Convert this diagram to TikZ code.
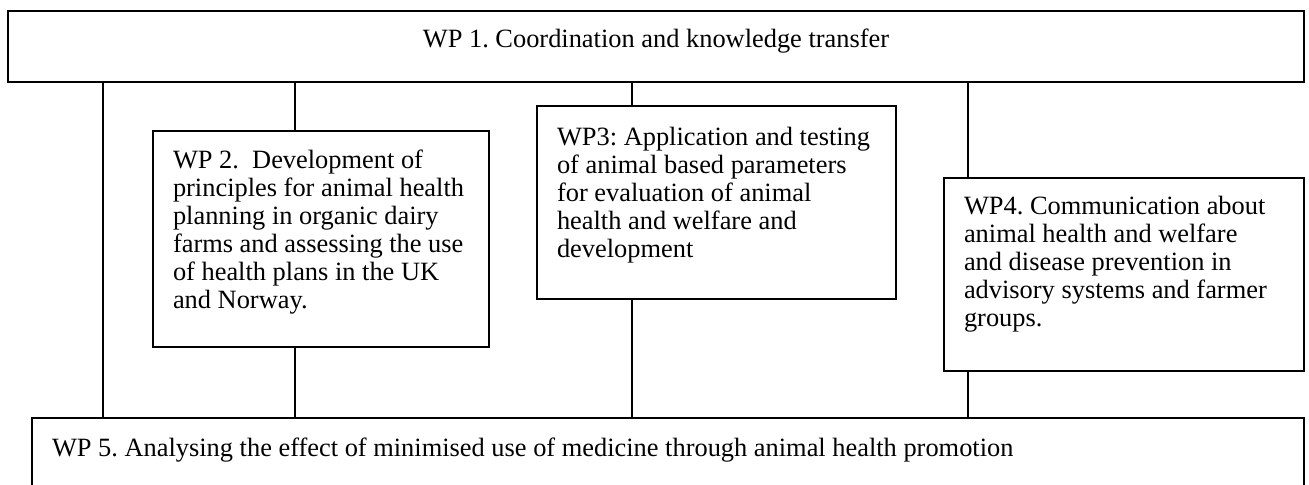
\documentclass[tikz,border=0pt]{standalone}
\usepackage{fontspec}
\setmainfont{Liberation Serif}
\frenchspacing
\begin{document}
\begin{tikzpicture}[x=0.5pt, y=-0.5pt]
			\tikzset{boite/.style={draw=black, line width=1pt, anchor=north west, align=flush left, inner xsep=10pt, inner ysep=0pt, font=\fontsize{13.2}{14}\selectfont}, lien/.style={draw=black, line width=1pt}};

			\useasboundingbox (0,0) rectangle (1309,484);

			\node[boite, align=flush center, text width=628pt, text height=18pt, text depth=17.5pt] (wp1) at (   7,   10) {WP 1. Coordination and knowledge transfer};
			\node[boite, text width=148pt, text height=18.5pt, text depth=89.5pt] (wp2) at ( 152,  130) {WP 2.~ Development of\\ principles for animal health\\ planning in organic dairy\\ farms and assessing the use\\ of health plans in the UK\\ and Norway.};
			\node[boite, text width=159.5pt, text height=19.5pt, text depth=77pt] (wp3) at ( 536,  105) {WP3: Application and testing\\ of animal based parameters\\ for evaluation of animal\\ health and welfare and\\ development};
			\node[boite, text width=160pt, text height=18pt, text depth=78.5pt] (wp4) at ( 943,  177) {WP4. Communication about\\ animal health and welfare\\ and disease prevention in\\ advisory systems and farmer\\ groups.};
			\node[boite, text width=616pt, text height=19pt, text depth=18pt] (wp5) at (  31,  417) {WP 5. Analysing the effect of minimised use of medicine through animal health promotion};

			\coordinate (x1) at ( 103, 0);
			\coordinate (x2) at ( 295, 0);
			\coordinate (x3) at ( 632, 0);
			\coordinate (x4) at ( 968, 0);

			\draw[lien] (wp1.south -| x1) -- (wp5.north -| x1);
			\draw[lien] (wp1.south -| x2) -- (wp2.north -| x2);
			\draw[lien] (wp2.south -| x2) -- (wp5.north -| x2);
			\draw[lien] (wp1.south -| x3) -- (wp3.north -| x3);
			\draw[lien] (wp3.south -| x3) -- (wp5.north -| x3);
			\draw[lien] (wp1.south -| x4) -- (wp4.north -| x4);
			\draw[lien] (wp4.south -| x4) -- (wp5.north -| x4);

\end{tikzpicture}
\end{document}
